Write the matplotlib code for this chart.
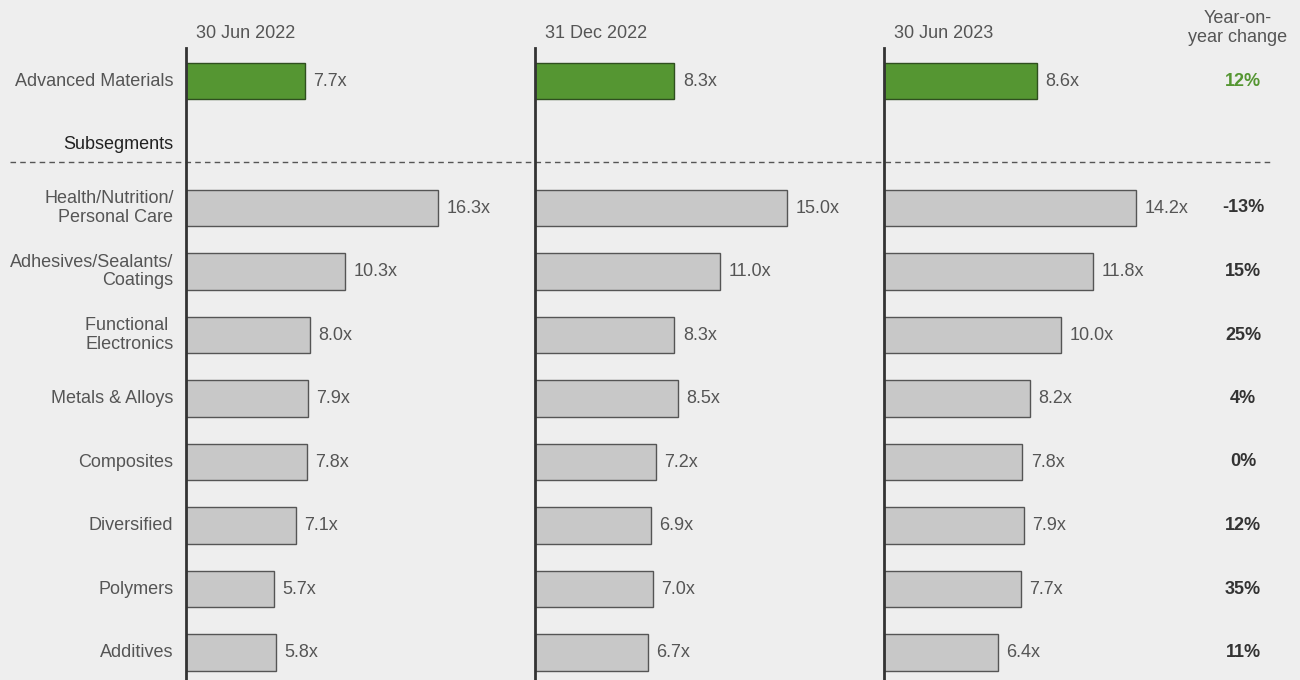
import matplotlib
matplotlib.use("Agg")
import numpy as np
from matplotlib import pyplot as plt

# multiples by segment and date
dates = ["30 Jun 2022", "31 Dec 2022", "30 Jun 2023"]
segment = "Advanced Materials"
segment_vals = [7.7, 8.3, 8.6]
segment_yoy = "12%"

subsegments = ["Health/Nutrition/\nPersonal Care", "Adhesives/Sealants/\nCoatings",
               "Functional \nElectronics", "Metals & Alloys", "Composites",
               "Diversified", "Polymers", "Additives"]
jun22 = [16.3, 10.3, 8.0, 7.9, 7.8, 7.1, 5.7, 5.8]
dec22 = [15.0, 11.0, 8.3, 8.5, 7.2, 6.9, 7.0, 6.7]
jun23 = [14.2, 11.8, 10.0, 8.2, 7.8, 7.9, 7.7, 6.4]
yoy = ["-13%", "15%", "25%", "4%", "0%", "12%", "35%", "11%"]

BG = "#eeeeee"
GREEN = "#559632"
GREY = "#c8c8c8"
TXT = "#555555"
FS = 13

plt.rcParams['font.family'] = ['Liberation Sans', 'DejaVu Sans']

W, H = 1300, 680
fig = plt.figure(figsize=(W / 100, H / 100), dpi=100, facecolor=BG)

# row layout: 0 = segment, 1 = "Subsegments", 2.. = subsegments
row_px = 63.5
top_row_px = 81
ax_top_px, ax_bot_px = 48, 680
y_top = (ax_top_px - top_row_px) / row_px
y_bot = (ax_bot_px - top_row_px) / row_px
sub_y = np.arange(len(subsegments)) + 2
bar_h = 0.57

# overlay for free text and the divider, in pixel units
ov = fig.add_axes([0, 0, 1, 1], facecolor="none")
ov.set_xlim(0, W)
ov.set_ylim(H, 0)
ov.axis("off")

panel_left = [186, 535, 884]
panel_w = 300
max_len = 252

series = [jun22, dec22, jun23]
for k, (left, date) in enumerate(zip(panel_left, dates)):
    ax = fig.add_axes([left / W, 0, panel_w / W, (H - ax_top_px) / H], facecolor="none")
    vals = series[k]
    ax.set_xlim(0, max(vals) * panel_w / max_len)
    ax.set_ylim(y_bot, y_top)
    ax.barh([0], [segment_vals[k]], height=bar_h, color=GREEN, edgecolor="#2f4f1f", linewidth=1)
    ax.barh(sub_y, vals, height=bar_h, color=GREY, edgecolor="#555555", linewidth=1)
    for y, v in zip([0] + list(sub_y), [segment_vals[k]] + vals):
        ax.annotate(f"{v:.1f}x", xy=(v, y), xytext=(6, 0), textcoords="offset points",
                    ha="left", va="center", fontsize=FS, color=TXT)
    for s in ["top", "right", "bottom"]:
        ax.spines[s].set_visible(False)
    ax.spines["left"].set_color("#333333")
    ax.spines["left"].set_linewidth(2)
    ax.set_xticks([])
    ax.set_yticks([])
    ov.text(left + 10, 33, date, ha="left", va="center", fontsize=FS, color=TXT)

    if k == 0:
        ax.annotate(segment, xy=(0, 0), xytext=(-9, 0), textcoords="offset points",
                    ha="right", va="center", fontsize=FS, color=TXT)
        ax.annotate("Subsegments", xy=(0, 1), xytext=(-9, 0), textcoords="offset points",
                    ha="right", va="center", fontsize=FS, color="#222222")
        for y, name in zip(sub_y, subsegments):
            ax.annotate(name, xy=(0, y), xytext=(-9, 0), textcoords="offset points",
                        ha="right", va="center", fontsize=FS, color=TXT,
                        multialignment="right", linespacing=1.1)

# year-on-year column
yoy_x = 1243
ov.text(yoy_x - 5, 28, "Year-on-\nyear change", ha="center", va="center",
        fontsize=FS, color=TXT, linespacing=1.12)
ov.text(yoy_x, top_row_px, segment_yoy, ha="center", va="center",
        fontsize=FS, color=GREEN, fontweight="bold")
for i, t in enumerate(yoy):
    ov.text(yoy_x, top_row_px + (i + 2) * row_px, t, ha="center", va="center",
            fontsize=FS, color="#333333", fontweight="bold")

# dashed divider under the segment row
ov.plot([10, 1272], [162, 162], color="#555555", linewidth=1, linestyle=(0, (4, 3)))

fig.savefig("out.png", dpi=100, facecolor=BG)
